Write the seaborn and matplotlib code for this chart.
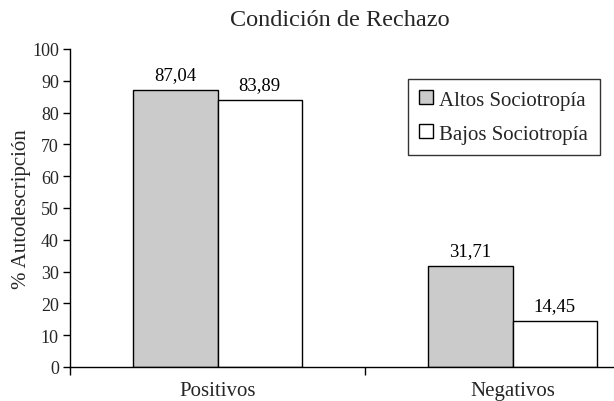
import matplotlib
matplotlib.use("Agg")
import matplotlib.pyplot as plt
import seaborn as sns
import pandas as pd
from matplotlib.ticker import FixedLocator
from matplotlib.patches import Patch

categories = ["Positivos", "Negativos"]
series = ["Altos Sociotropía", "Bajos Sociotropía"]
altos = [87.04, 31.71]
bajos = [83.89, 14.45]
yticks = list(range(0, 101, 10))

sns.set_theme(style="white")
plt.rcParams['font.family'] = ['Liberation Serif', 'DejaVu Serif']
plt.rcParams['font.size'] = 13

df = pd.DataFrame({
    "cat": categories * 2,
    "grupo": [series[0]] * 2 + [series[1]] * 2,
    "valor": altos + bajos,
})

fig = plt.figure(figsize=(6.14, 4.02), dpi=100)
ax = fig.add_axes([70/614, (402-368)/402, (660-70)/614, (368-50)/402])

colors = ["#cbcbcb", "white"]
sns.barplot(data=df, x="cat", y="valor", hue="grupo", order=categories,
            hue_order=series, palette=colors, width=0.57, edgecolor="black",
            linewidth=1.0, ax=ax, legend=False, errorbar=None, saturation=1)

for cont, vals in zip(ax.containers, [altos, bajos]):
    ax.bar_label(cont, labels=[f"{v:.2f}".replace(".", ",") for v in vals],
                 padding=5, fontsize=13.5, color="black")

ax.set_xlim(-0.5, 1.5)
ax.set_ylim(0, 100)
ax.set_yticks(yticks)
ax.set_yticklabels([str(t) for t in yticks], fontsize=13)
ax.set_xlabel("")
ax.set_ylabel("% Autodescripción", fontsize=15, labelpad=1)
ax.tick_params(axis="x", length=0, pad=10, labelsize=15)
ax.xaxis.set_minor_locator(FixedLocator([-0.5, 0.5, 1.5]))
ax.tick_params(axis="x", which="minor", length=6, width=1.0, direction="out", bottom=True, color="black")
ax.tick_params(axis="y", length=5, width=1.0, direction="out", left=True, color="black", pad=3)
for s in ["top", "right"]:
    ax.spines[s].set_visible(False)
for s in ["left", "bottom"]:
    ax.spines[s].set_color("black")
    ax.spines[s].set_linewidth(1.0)

handles = [Patch(facecolor=colors[0], edgecolor="black", label=series[0]),
           Patch(facecolor=colors[1], edgecolor="black", label=series[1])]
leg = ax.legend(handles=handles, loc="upper left", bbox_to_anchor=(408/614, (402-80)/402),
                bbox_transform=fig.transFigure, frameon=True, fancybox=False,
                edgecolor="black", fontsize=15, handlelength=0.65, handleheight=0.65,
                handletextpad=0.3, labelspacing=0.7, borderpad=0.55, borderaxespad=0)
leg.get_frame().set_linewidth(1.0)

fig.text(340/614, 1 - 21/402, "Condición de Rechazo", ha="center", va="center", fontsize=17.5)

fig.savefig("out.png", dpi=100)
